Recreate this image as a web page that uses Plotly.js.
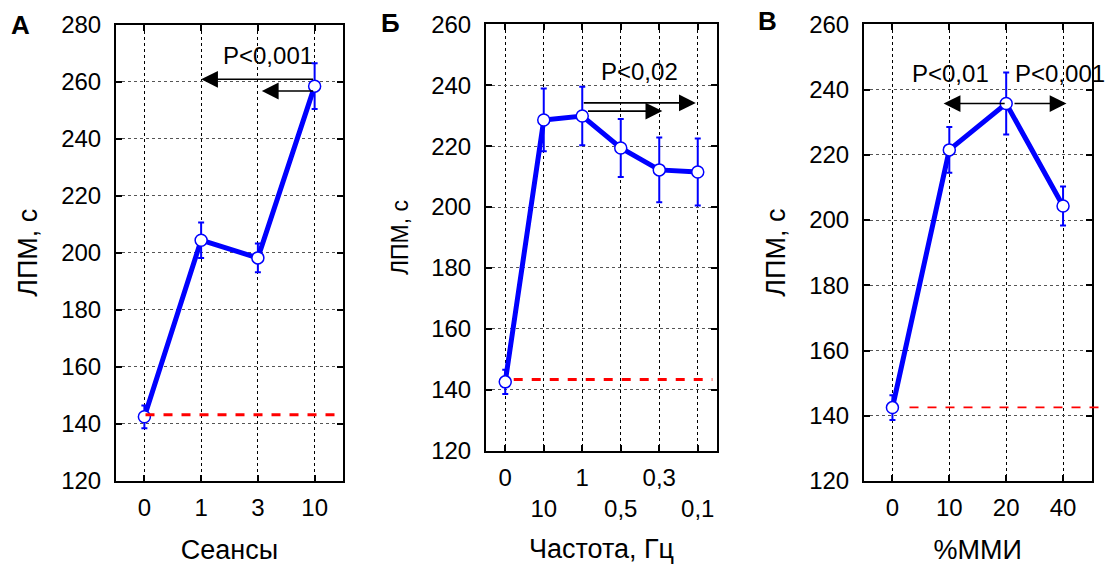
<!DOCTYPE html>
<html>
<head>
<meta charset="utf-8">
<script src="https://cdn.plot.ly/plotly-3.0.1.min.js"></script>
<style>html,body{margin:0;padding:0;background:#fff;}#chart{width:1110px;height:570px;}</style>
</head>
<body>
<div id="chart"></div>
<script>
// ---- data ----
const catsA = ['0', '1', '3', '10'];
const valsA = [142.5, 204.4, 198.2, 258.4];
const errA  = [4, 6.2, 5, 8];
const baseA = 143.2;

const catsB = ['0', '10', '1', '0,5', '0,3', '0,1'];
const valsB = [142.6, 228.6, 229.9, 219.4, 212.2, 211.5];
const errB  = [4, 10.3, 9.6, 9.5, 10.6, 11];
const baseB = 143.4;

const catsC = ['0', '10', '20', '40'];
const valsC = [142.5, 221.5, 235.7, 204.3];
const errC  = [3.8, 7, 9.5, 6];
const baseC = 142.6;

// significance arrows: [tail index, head index, y level]
const arrowsA = [[3, 1, 260.8], [3, 2.07, 256.7]];
const arrowsB = [[2, 4.95, 234.2], [2.11, 4.08, 231.5]];
const arrowsC = [[2, 0.9, 235.7], [2.12, 3.06, 235.7]];
// significance labels: [text, x index, y]
const pA = [['P<0,001', 2.18, 269.2]];
const pB = [['P<0,02', 3.48, 244.4]];
const pC = [['P<0,01', 1.02, 244.8], ['P<0,001', 2.94, 244.8]];

const yRangeA = [120, 280], yRangeB = [120, 260], yRangeC = [120, 260];

// ---- drawing ----
const FONT = 'Liberation Sans, Arial, sans-serif';
const BLUE = '#0000ff';
const W = 1110, H = 570;

function idx(arr) { return arr.map((_, i) => i); }

function trace(vals, errs, xa, ya) {
  return {
    x: idx(vals), y: vals, xaxis: xa, yaxis: ya,
    type: 'scatter', mode: 'lines+markers',
    line: {color: BLUE, width: 5},
    marker: {symbol: 'circle', size: 12, color: '#ffffff', line: {color: BLUE, width: 1.5}},
    error_y: {type: 'data', array: errs, visible: true, color: BLUE, thickness: 2, width: 3},
    showlegend: false, hoverinfo: 'skip'
  };
}

const data = [
  trace(valsA, errA, 'x', 'y'),
  trace(valsB, errB, 'x2', 'y2'),
  trace(valsC, errC, 'x3', 'y3')
];

function xaxis(domain, cats, ttext, title, anchor, standoff) {
  return {
    domain: domain, anchor: anchor, range: [-0.5, cats.length - 0.5],
    tickmode: 'array', tickvals: idx(cats), ticktext: ttext,
    showline: true, linecolor: '#000', linewidth: 2, mirror: 'ticks',
    ticks: 'inside', ticklen: 6, tickwidth: 2, tickcolor: '#000',
    showgrid: true, gridcolor: '#000', griddash: 'dot', gridwidth: 1,
    zeroline: false, tickfont: {family: FONT, size: 24, color: '#000'},
    ticklabelstandoff: 4,
    title: {text: title, font: {family: FONT, size: 27, color: '#000'}, standoff: standoff}
  };
}
function yaxis(domain, range, anchor, tsize, standoff) {
  return {
    domain: domain, anchor: anchor, range: range, dtick: 20, tick0: 0,
    showline: true, linecolor: '#000', linewidth: 2, mirror: 'ticks',
    ticks: 'inside', ticklen: 6, tickwidth: 2, tickcolor: '#000',
    showgrid: true, gridcolor: '#555', griddash: 'dot', gridwidth: 1,
    zeroline: false, tickfont: {family: FONT, size: 24, color: '#000'},
    ticklabelstandoff: 8,
    title: {text: 'ЛПМ, с', font: {family: FONT, size: tsize, color: '#000'}, standoff: standoff}
  };
}

const dA = [116 / W, 343 / W], dB = [486 / W, 717 / W], dC = [864 / W, 1091.5 / W];
const yA = [1 - 481 / H, 1 - 24.5 / H], yB = [1 - 450.7 / H, 1 - 24.3 / H], yC = [1 - 481 / H, 1 - 24.3 / H];

const ticksB = catsB.map((c, i) => (i % 2 === 0 ? c : '<br>' + c));

const layout = {
  width: W, height: H,
  margin: {l: 0, r: 0, t: 0, b: 0},
  paper_bgcolor: '#fff', plot_bgcolor: '#fff',
  font: {family: FONT, color: '#000'},
  xaxis: xaxis(dA, catsA, catsA, 'Сеансы', 'y', 20),
  yaxis: yaxis(yA, yRangeA, 'x', 27, 16),
  xaxis2: xaxis(dB, catsB, ticksB, 'Частота, Гц', 'y2', 18),
  yaxis2: yaxis(yB, yRangeB, 'x2', 23, 16),
  xaxis3: xaxis(dC, catsC, catsC, '%ММИ', 'y3', 20),
  yaxis3: yaxis(yC, yRangeC, 'x3', 27, 16),
  shapes: [],
  annotations: []
};

// baseline dashed lines
function baseline(val, xr, yr, x0, x1, w) {
  layout.shapes.push({type: 'line', xref: xr + ' domain', yref: yr, x0: x0, x1: x1, y0: val, y1: val,
    line: {color: '#ff0000', width: w, dash: 'dash'}, layer: 'above'});
}
baseline(baseA, 'x', 'y', 0.13, 0.97, 3);
baseline(baseB, 'x2', 'y2', 0.12, 0.98, 3);
baseline(baseC, 'x3', 'y3', 0.2, 1.037, 1.8);

function arrows(list, xr, yr) {
  list.forEach(a => layout.annotations.push({
    x: a[1], y: a[2], ax: a[0], ay: a[2], xref: xr, yref: yr, axref: xr, ayref: yr,
    text: '', showarrow: true, arrowhead: 2, arrowsize: 2.1, arrowwidth: 1.6, arrowcolor: '#000'
  }));
}
arrows(arrowsA, 'x', 'y'); arrows(arrowsB, 'x2', 'y2'); arrows(arrowsC, 'x3', 'y3');

function plabels(list, xr, yr) {
  list.forEach(p => layout.annotations.push({
    x: p[1], y: p[2], xref: xr, yref: yr, text: p[0], showarrow: false,
    font: {family: FONT, size: 24, color: '#000'}, xanchor: 'center', yanchor: 'middle'
  }));
}
plabels(pA, 'x', 'y'); plabels(pB, 'x2', 'y2'); plabels(pC, 'x3', 'y3');

// panel letters
[['А', 20], ['Б', 390], ['В', 767]].forEach((l, i) => layout.annotations.push({
  x: l[1] / W, y: 1 - [25, 23, 21][i] / H, xref: 'paper', yref: 'paper', text: '<b>' + l[0] + '</b>',
  showarrow: false, xanchor: 'center', yanchor: 'middle', font: {family: FONT, size: 26, color: '#000'}
}));

Plotly.newPlot('chart', data, layout, {staticPlot: true, displayModeBar: false});
</script>
</body>
</html>
